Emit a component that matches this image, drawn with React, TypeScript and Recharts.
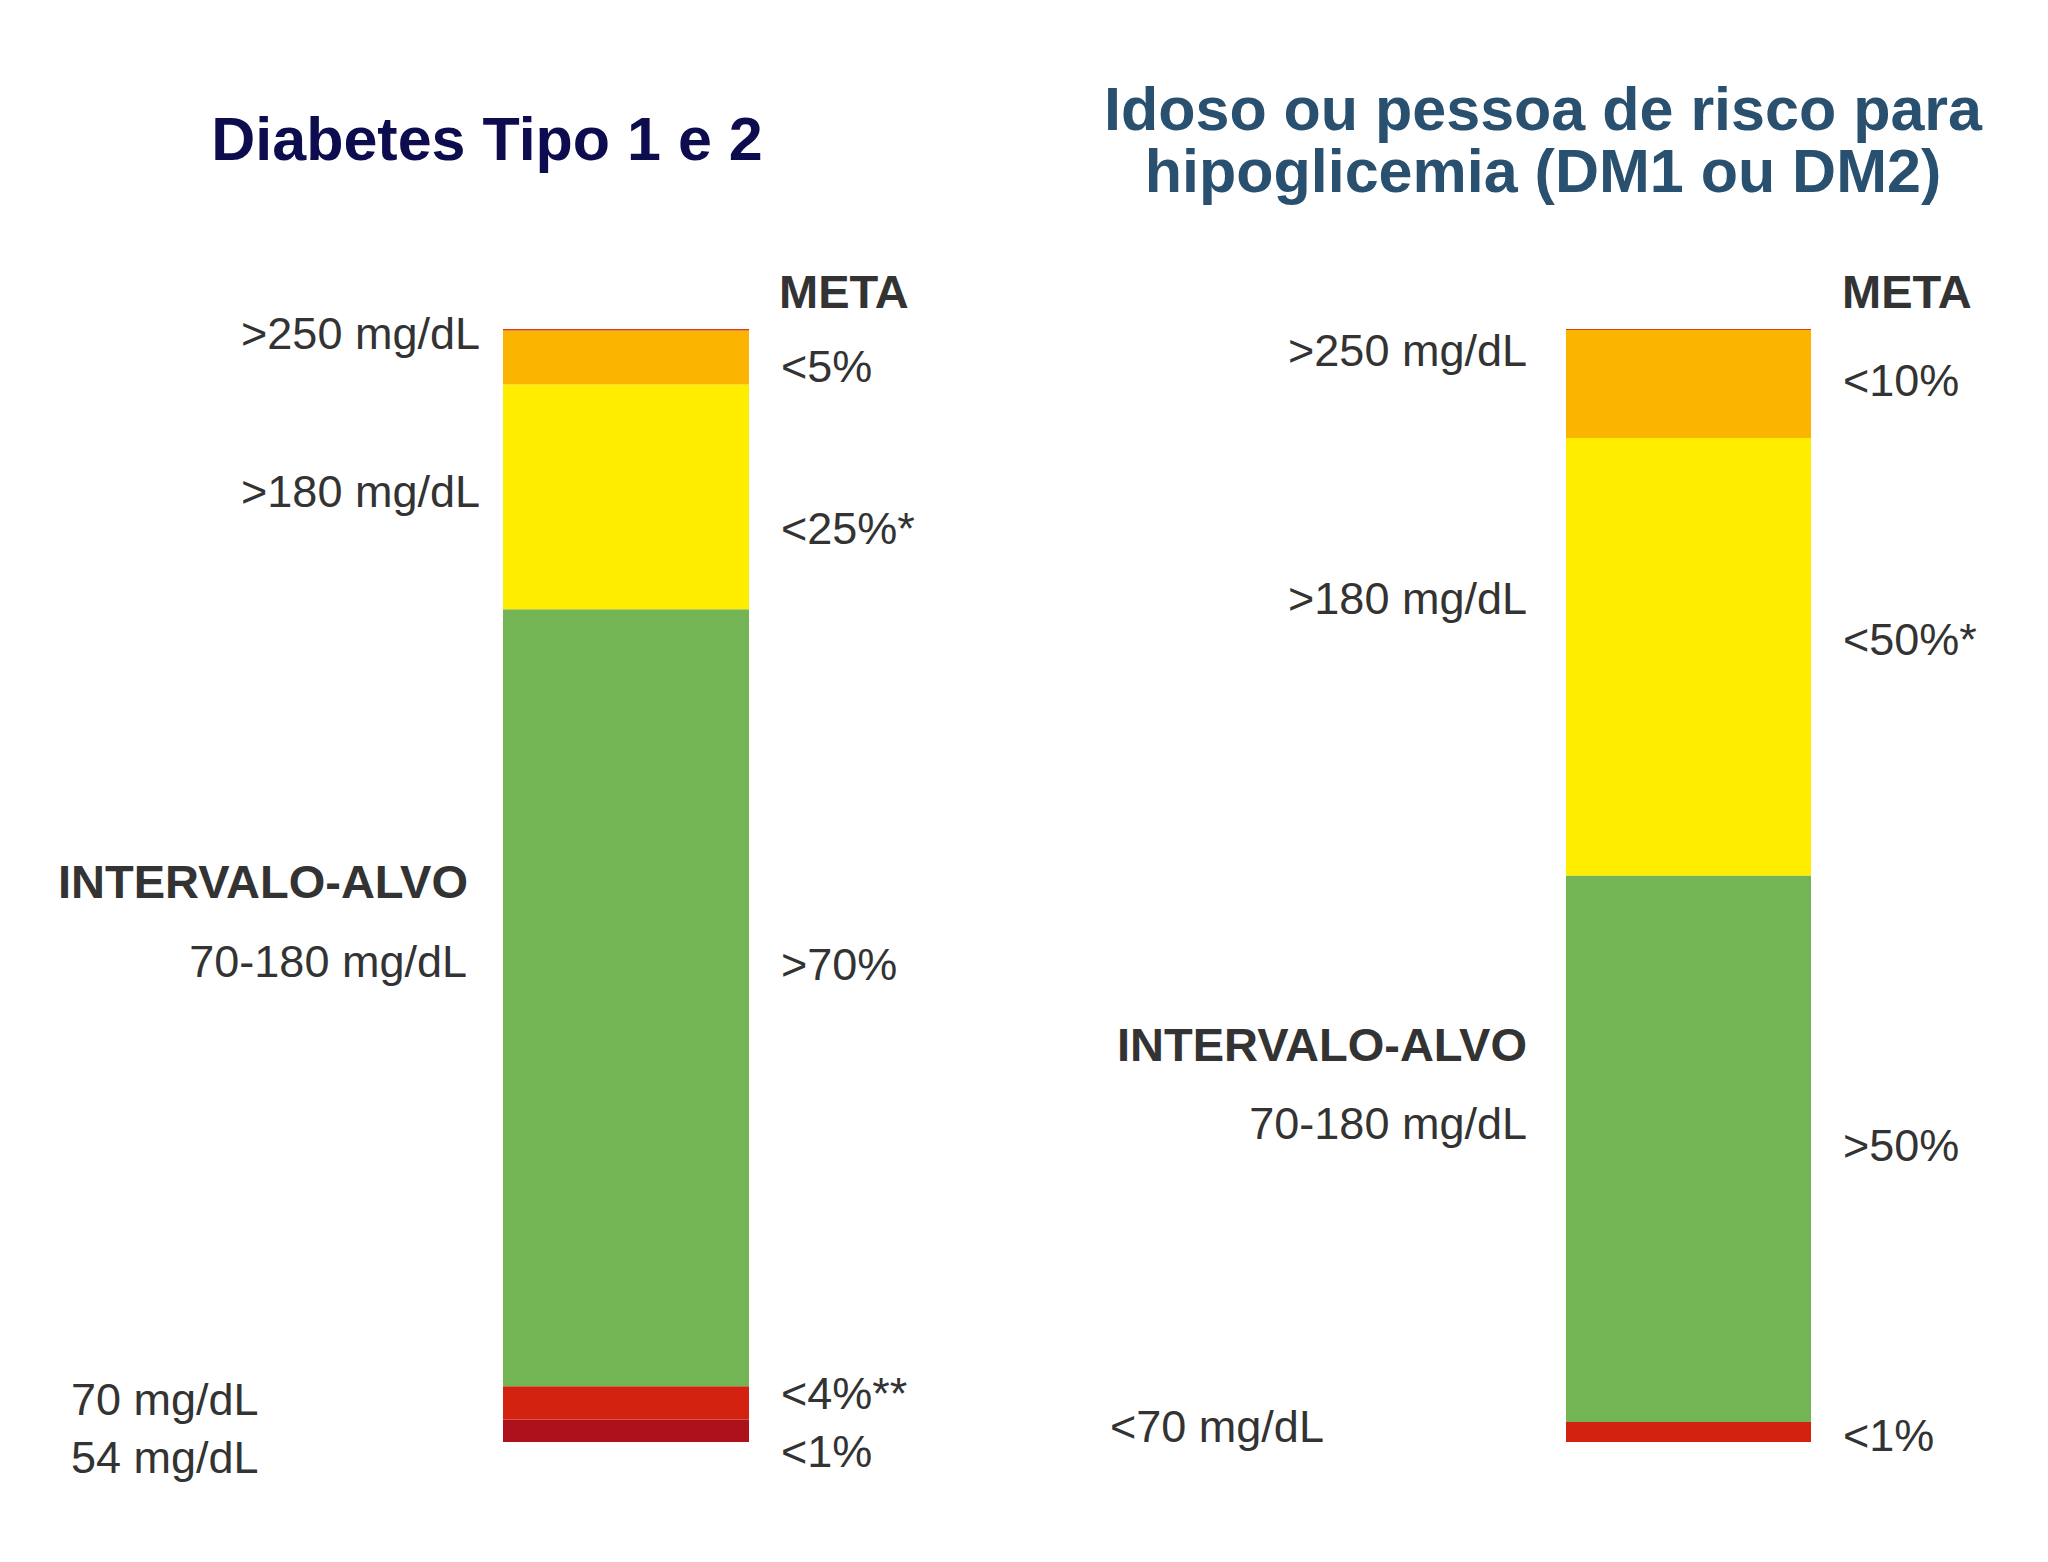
import { BarChart, Bar, XAxis, YAxis } from "recharts";

// faixas de glicose, de baixo para cima
const bandKeys = ["veryLow", "low", "target", "high", "veryHigh", "top"];
const bandColors = ["#ad111c", "#d3220f", "#73b554", "#ffed00", "#fbb400", "#dc3a18"];

// % do tempo em cada faixa
const dm12Values = [2.02, 3.0, 69.8, 20.2, 4.85, 0.13];
const elderlyValues = [0, 1.8, 49.1, 39.3, 9.7, 0.1];

const leftTitle = "Diabetes Tipo 1 e 2";
const rightTitle = ["Idoso ou pessoa de risco para", "hipoglicemia (DM1 ou DM2)"];
const goalHeader = "META";
const targetHeader = "INTERVALO-ALVO";

const leftRangeLabels = [">250 mg/dL", ">180 mg/dL", "70-180 mg/dL", "70 mg/dL", "54 mg/dL"];
const leftGoalLabels = ["<5%", "<25%*", ">70%", "<4%**", "<1%"];
const rightRangeLabels = [">250 mg/dL", ">180 mg/dL", "70-180 mg/dL", "<70 mg/dL"];
const rightGoalLabels = ["<10%", "<50%*", ">50%", "<1%"];

const toRow = (name: string, values: number[]) => {
  const row: Record<string, any> = { name };
  bandKeys.forEach((k, i) => (row[k] = values[i]));
  return [row];
};

const FONT = "'Liberation Sans', Arial, Helvetica, sans-serif";
const GRAY = "#333333";

function Column({ rows, left, margin }: { rows: any[]; left: number; margin: any }) {
  return (
    <div style={{ position: "absolute", left, top: 0 }}>
      <BarChart width={1024} height={1562} data={rows} margin={margin} barCategoryGap={0}>
        <XAxis dataKey="name" hide />
        <YAxis type="number" domain={[0, 100]} hide />
        {bandKeys.map((k, i) => (
          <Bar key={k} dataKey={k} stackId="t" fill={bandColors[i]} isAnimationActive={false} />
        ))}
      </BarChart>
    </div>
  );
}

export default function App() {
  const txt = { fontFamily: FONT, fontSize: 45, fill: GRAY };
  const bold = { fontFamily: FONT, fontSize: 47, fill: GRAY, fontWeight: "bold" };
  const leftRangeY = [349, 507, 977, 1415, 1473];
  const leftGoalY = [382, 544, 980, 1409, 1467];
  const rightRangeY = [366, 614, 1139, 1442];
  const rightGoalY = [396, 655, 1161, 1451];

  return (
    <div style={{ position: "absolute", left: 0, top: 0, width: 2048, height: 1562, background: "#fff" }}>
      <Column rows={toRow("DM1/DM2", dm12Values)} left={0} margin={{ top: 329, bottom: 120, left: 503, right: 275 }} />
      <Column rows={toRow("Idoso", elderlyValues)} left={1024} margin={{ top: 329, bottom: 120, left: 542, right: 237 }} />

      <svg width={2048} height={1562} style={{ position: "absolute", left: 0, top: 0, pointerEvents: "none" }}>
        <text x={487} y={160} textAnchor="middle" fontFamily={FONT} fontSize={61} fontWeight="bold" fill="#0d0c4e">
          {leftTitle}
        </text>
        {rightTitle.map((line, i) => (
          <text key={line} x={1543} y={130 + i * 62} textAnchor="middle" fontFamily={FONT} fontSize={61} fontWeight="bold" fill="#2a5070">
            {line}
          </text>
        ))}

        {/* painel esquerdo */}
        <text x={779} y={308} {...bold}>{goalHeader}</text>
        <text x={468} y={898} textAnchor="end" {...bold}>{targetHeader}</text>
        {leftRangeLabels.map((t, i) => (
          <text key={t} x={i < 2 ? 480 : i === 2 ? 467 : 71} y={leftRangeY[i]} textAnchor={i < 3 ? "end" : "start"} {...txt}>
            {t}
          </text>
        ))}
        {leftGoalLabels.map((t, i) => (
          <text key={t} x={781} y={leftGoalY[i]} {...txt}>{t}</text>
        ))}

        {/* painel direito */}
        <text x={1842} y={308} {...bold}>{goalHeader}</text>
        <text x={1527} y={1061} textAnchor="end" {...bold}>{targetHeader}</text>
        {rightRangeLabels.map((t, i) => (
          <text key={t} x={i < 3 ? 1527 : 1110} y={rightRangeY[i]} textAnchor={i < 3 ? "end" : "start"} {...txt}>
            {t}
          </text>
        ))}
        {rightGoalLabels.map((t, i) => (
          <text key={t} x={1843} y={rightGoalY[i]} {...txt}>{t}</text>
        ))}
      </svg>
    </div>
  );
}
